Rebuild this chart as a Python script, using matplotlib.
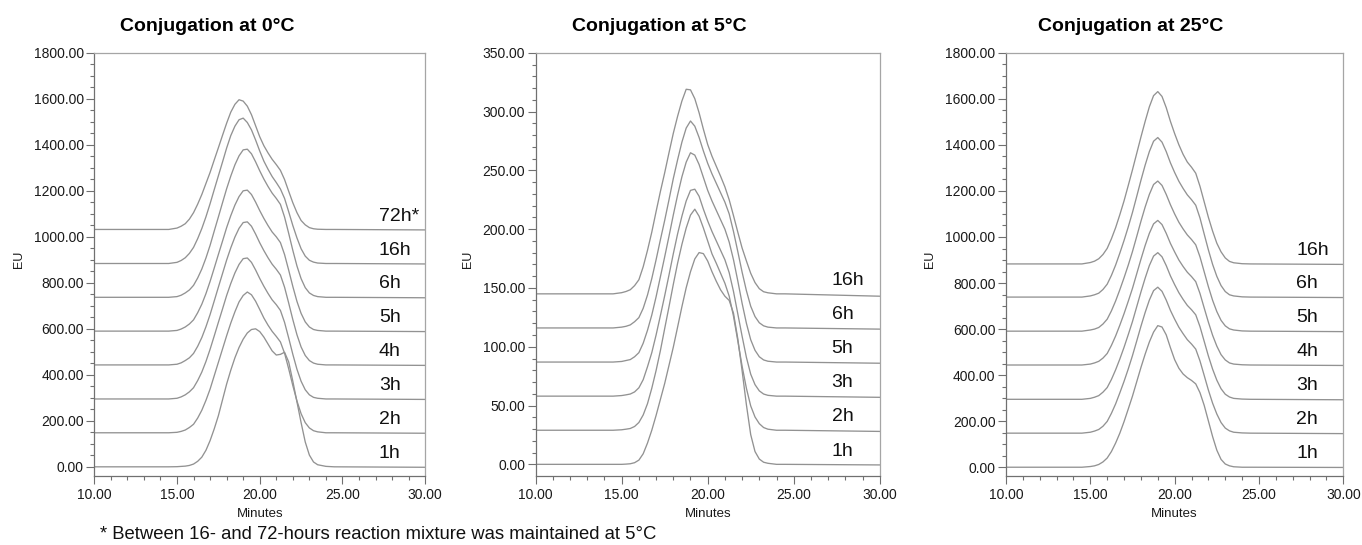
import matplotlib.pyplot as plt
from matplotlib.ticker import MultipleLocator, FormatStrFormatter

plt.rcParams['font.family'] = ['Liberation Sans', 'DejaVu Sans']

# retention time grid shared by all traces (minutes)
minutes = [10, 14, 14.5, 15, 15.25, 15.5, 15.75, 16, 16.25, 16.5, 16.75, 17, 17.25,
           17.5, 17.75, 18, 18.25, 18.5, 18.75, 19, 19.25, 19.5, 19.75, 20, 20.25,
           20.5, 20.75, 21, 21.25, 21.5, 21.75, 22, 22.25, 22.5, 22.75, 23, 23.25,
           23.5, 24, 24.5, 30]

# --- conjugation at 0 C (stacked traces, EU) ---
labels_0c = ['1h', '2h', '3h', '4h', '5h', '6h', '16h', '72h*']
eu_0c = [
    [0, 0, 0, 0.6, 1.8, 3, 6, 12, 24, 42, 72, 114, 165, 222, 291, 360, 420, 474, 519, 555, 582, 597, 600, 588, 564, 534, 504, 486, 489, 498, 456, 372, 282, 192, 108, 51, 21, 9, 2, 0, -2],
    [148, 148, 148, 150, 154, 160, 171, 185, 212, 246, 289, 338, 396, 454, 512, 570, 625, 674, 717, 745, 760, 748, 720, 684, 647, 616, 589, 567, 543, 494, 426, 353, 286, 231, 192, 169, 157, 152, 148, 148, 146],
    [295, 295, 295, 298, 304, 313, 326, 344, 375, 412, 458, 511, 569, 628, 686, 745, 797, 843, 880, 905, 908, 889, 856, 819, 785, 754, 726, 705, 680, 628, 560, 489, 424, 372, 335, 313, 302, 298, 295, 295, 293],
    [443, 443, 443, 446, 452, 462, 474, 493, 524, 562, 609, 662, 721, 781, 840, 899, 952, 999, 1037, 1062, 1065, 1046, 1012, 974, 940, 909, 881, 859, 834, 781, 712, 640, 574, 521, 484, 462, 451, 446, 443, 443, 441],
    [590, 590, 590, 593, 599, 608, 621, 639, 670, 707, 753, 806, 864, 923, 981, 1040, 1092, 1138, 1175, 1200, 1203, 1184, 1151, 1114, 1080, 1049, 1021, 1000, 975, 923, 855, 784, 719, 667, 630, 608, 597, 593, 590, 590, 588],
    [737, 737, 737, 740, 746, 756, 769, 789, 821, 860, 908, 963, 1025, 1086, 1148, 1209, 1264, 1313, 1352, 1378, 1381, 1361, 1326, 1287, 1251, 1219, 1190, 1167, 1141, 1086, 1015, 941, 873, 818, 779, 756, 745, 740, 737, 737, 735],
    [884, 884, 884, 889, 897, 909, 928, 954, 992, 1036, 1087, 1144, 1205, 1265, 1325, 1386, 1440, 1481, 1509, 1516, 1497, 1465, 1421, 1373, 1329, 1294, 1262, 1236, 1208, 1167, 1109, 1049, 995, 948, 916, 898, 890, 886, 884, 884, 882],
    [1032, 1032, 1032, 1038, 1046, 1057, 1077, 1105, 1142, 1184, 1232, 1280, 1334, 1387, 1441, 1494, 1542, 1576, 1596, 1590, 1568, 1531, 1483, 1435, 1396, 1365, 1337, 1314, 1289, 1249, 1198, 1148, 1105, 1071, 1052, 1040, 1035, 1033, 1032, 1032, 1030],
]

# --- conjugation at 5 C ---
labels_5c = ['1h', '2h', '3h', '5h', '6h', '16h']
eu_5c = [
    [0, 0, 0, 0, 0.2, 0.5, 1.4, 3.6, 9, 18.1, 29, 41.6, 55.2, 68.8, 84.2, 99.6, 116.7, 134, 150.2, 163.8, 174.7, 180.1, 179.2, 172.9, 163.8, 155.7, 148.4, 143, 139.4, 128.5, 106.8, 79.6, 50.7, 25.3, 10.9, 4.5, 1.8, 0.9, 0, 0, -0.5],
    [29, 29, 29, 29.4, 29.9, 30.5, 32.2, 35.6, 42, 51.6, 64.7, 79.8, 96.7, 115.5, 134, 153, 171, 187, 201, 212, 217, 211, 201, 190, 179, 171, 162.5, 154, 143, 126, 105, 83.5, 64.7, 49.7, 40.3, 34.6, 31.3, 29.9, 29, 29, 28],
    [58, 58, 58, 58.5, 59.1, 59.8, 61.6, 65.1, 72, 83, 95, 110, 126.5, 143.4, 161, 179, 196, 211, 224, 233, 234, 228, 217, 207, 198, 190, 182, 174, 163, 147, 128, 109, 91, 76.7, 67.8, 62.5, 59.8, 58.7, 58, 58, 57],
    [87, 87, 87, 87.5, 88.3, 89.1, 91.5, 95, 103, 114, 127, 142.5, 159.5, 176.5, 194, 212, 229, 244.5, 257, 265, 263, 255, 244, 233, 224, 216, 208, 200, 189, 174, 156, 137, 120, 106, 97, 91.5, 88.8, 87.7, 87, 87, 86],
    [116, 116, 116, 116.7, 117.4, 118.6, 121.3, 124.8, 132.7, 144, 158, 174, 191, 207.5, 225, 243, 259, 274, 286, 292, 287.6, 278, 266.5, 256, 247, 239, 231, 223, 213, 198, 181, 163.5, 147.7, 134.5, 125.7, 120.4, 117.8, 116.7, 116, 116, 115],
    [145, 145, 145, 146, 147, 148.5, 152, 157, 168, 182, 197.5, 215, 232, 248, 265, 281.5, 296, 309, 319, 318.5, 311, 299, 285, 272, 262, 253.5, 245, 236, 225, 211.5, 197.5, 184, 173, 162.5, 154.6, 149.4, 146.8, 145.9, 145, 145, 143],
]

# --- conjugation at 25 C ---
labels_25c = ['1h', '2h', '3h', '4h', '5h', '6h', '16h']
eu_25c = [
    [0, 0, 0, 3, 6, 12, 23, 40, 68, 105, 148, 198, 253, 309, 371, 433, 491, 544, 587, 615, 609, 575, 519, 467, 430, 405, 389, 377, 362, 324, 269, 201, 133, 74, 34, 14, 6, 2, 0, 0, -1],
    [148, 148, 148, 152, 157, 164, 178, 199, 234, 275, 323, 373, 427, 485, 548, 612, 672, 726, 767, 782, 764, 726, 681, 643, 608, 580, 554, 535, 513, 462, 399, 335, 278, 231, 194, 170, 158, 152, 149, 148, 146],
    [295, 295, 295, 299, 304, 311, 326, 346, 381, 423, 470, 521, 576, 633, 697, 761, 821, 876, 917, 932, 914, 876, 831, 793, 758, 729, 703, 684, 662, 611, 547, 483, 426, 378, 341, 317, 305, 299, 296, 295, 293],
    [444, 444, 444, 448, 453, 460, 474, 494, 529, 570, 617, 667, 721, 777, 840, 903, 963, 1016, 1057, 1072, 1054, 1016, 972, 935, 900, 872, 847, 828, 806, 755, 692, 630, 573, 526, 489, 466, 453, 448, 445, 444, 442],
    [591, 591, 591, 596, 600, 607, 622, 643, 679, 722, 771, 823, 878, 937, 1002, 1068, 1130, 1185, 1228, 1243, 1224, 1185, 1140, 1100, 1064, 1035, 1009, 989, 966, 914, 849, 784, 725, 676, 638, 614, 601, 596, 592, 591, 589],
    [739, 739, 739, 744, 749, 756, 772, 795, 833, 878, 930, 985, 1044, 1107, 1176, 1246, 1312, 1371, 1416, 1432, 1412, 1371, 1322, 1280, 1242, 1211, 1183, 1162, 1138, 1083, 1013, 944, 881, 829, 789, 763, 749, 744, 740, 739, 737],
    [883, 883, 883, 889, 895, 905.5, 924, 950.5, 992, 1040.5, 1097, 1157, 1224, 1292, 1363, 1434, 1502, 1565.5, 1614, 1631.5, 1610.5, 1562, 1502, 1449, 1400.5, 1359, 1325.5, 1303, 1277, 1220.5, 1153, 1085.5, 1025.5, 973, 935.5, 909, 894, 888, 884, 883, 881],
]

titles = ['Conjugation at 0°C', 'Conjugation at 5°C', 'Conjugation at 25°C']

fig = plt.figure(figsize=(13.62, 5.45), dpi=100)

panels = [
    # axes rect, ylim, y major/minor step, title x, EU x
    ([0.0692, 0.1275, 0.2430, 0.7756], (-37.8, 1800), 200, 50, 0.1524, 0.0140, labels_0c, eu_0c),
    ([0.3933, 0.1275, 0.2526, 0.7756], (-9.5, 350), 50, 10, 0.4838, 0.3436, labels_5c, eu_5c),
    ([0.7386, 0.1275, 0.2477, 0.7756], (-36, 1800), 200, 50, 0.8304, 0.6830, labels_25c, eu_25c),
]

trace_col = '#929292'
axis_col = '#707070'

for i, (rect, ylim, ymaj, ymin, tx, ex, labels, traces) in enumerate(panels):
    ax = fig.add_axes(rect)
    for lbl, y in zip(labels, traces):
        ax.plot(minutes, y, color=trace_col, lw=0.95)
        ax.annotate(lbl, (27.2, y[0]), xytext=(0, 9.6), textcoords='offset points',
                    ha='left', va='center', fontsize=14, color='#111111')
    ax.set_xlim(10, 30)
    ax.set_ylim(*ylim)
    ax.xaxis.set_major_locator(MultipleLocator(5))
    ax.xaxis.set_minor_locator(MultipleLocator(1))
    ax.yaxis.set_major_locator(MultipleLocator(ymaj))
    ax.yaxis.set_minor_locator(MultipleLocator(ymin))
    ax.xaxis.set_major_formatter(FormatStrFormatter('%.2f'))
    ax.yaxis.set_major_formatter(FormatStrFormatter('%.2f'))
    ax.tick_params(axis='both', which='major', direction='out', color=axis_col,
                   labelsize=10, labelcolor='#1a1a1a', width=0.8)
    ax.tick_params(axis='x', which='major', length=5.5, pad=3.5)
    ax.tick_params(axis='y', which='major', length=6, pad=1.5)
    ax.tick_params(axis='both', which='minor', direction='out', color=axis_col,
                   length=3.2, width=0.8)
    for side in ['left', 'bottom']:
        ax.spines[side].set_color(axis_col)
        ax.spines[side].set_linewidth(0.9)
    for side in ['top', 'right']:
        ax.spines[side].set_color('#a5a5a5')
        ax.spines[side].set_linewidth(0.9)

    cx = rect[0] + rect[2] / 2
    fig.text(cx, 0.057, 'Minutes', ha='center', va='center', fontsize=9.5, color='#1a1a1a')
    fig.text(ex, 0.525, 'EU', ha='center', va='center', rotation=90, fontsize=9, color='#1a1a1a')
    fig.text(tx, 0.952, titles[i], ha='center', va='center', fontsize=14, fontweight='bold')

fig.text(0.0734, 0.019, '* Between 16- and 72-hours reaction mixture was maintained at 5°C',
         ha='left', va='center', fontsize=13.3, color='#111111')

fig.savefig('out.png', dpi=100)
